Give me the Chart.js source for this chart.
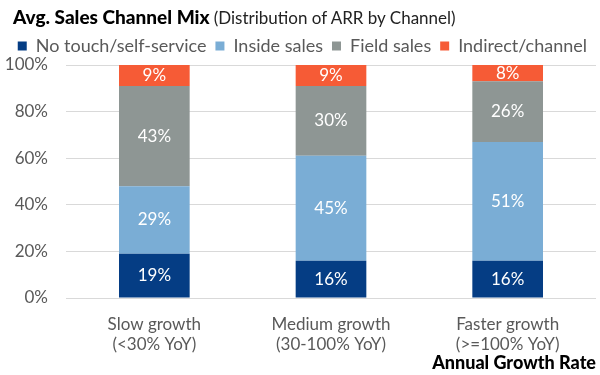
<!DOCTYPE html>
<html>
<head>
<meta charset="utf-8">
<script src="https://cdn.jsdelivr.net/npm/chart.js@4"></script>
<style>
    html, body { margin: 0; padding: 0; background: #ffffff; }
    #wrap { position: relative; width: 600px; height: 375px; }
    #header {
        position: absolute; left: 13px; top: 5px;
        font-family: Lato, sans-serif; color: #000000; white-space: nowrap;
    }
    #header b { font-size: 19px; font-weight: 900; }
    #header span { font-size: 17px; color: #222222; }
    canvas { position: absolute; left: 0; top: 0; }
</style>
</head>
<body>
<div id="wrap">
    <canvas id="mixChart" width="600" height="375"></canvas>
    <div id="header"><b>Avg. Sales Channel Mix</b> <span>(Distribution of ARR by Channel)</span></div>
</div>
<script>
const categories = [
    ['Slow growth', '(<30% YoY)'],
    ['Medium growth', '(30-100% YoY)'],
    ['Faster growth', '(>=100% YoY)']
];
const noTouch = [19, 16, 16];
const insideSales = [29, 45, 51];
const fieldSales = [43, 30, 26];
const indirect = [9, 9, 8];
const yTicks = [0, 20, 40, 60, 80, 100];

const seriesColors = {
    noTouch: '#053d84',
    inside: '#7aadd5',
    field: '#8e9694',
    indirect: '#f65b36'
};

// draws the value label in the middle of each stacked segment
const segmentLabels = {
    id: 'segmentLabels',
    afterDatasetsDraw(chart) {
        const ctx = chart.ctx;
        ctx.save();
        ctx.fillStyle = '#ffffff';
        ctx.font = '17px Lato';
        ctx.textAlign = 'center';
        ctx.textBaseline = 'middle';
        chart.data.datasets.forEach((ds, i) => {
            chart.getDatasetMeta(i).data.forEach((bar, j) => {
                const top = Math.max(bar.y, chart.chartArea.top);
                const mid = (top + bar.base) / 2;
                ctx.fillText(ds.data[j] + '%', bar.x, mid);
            });
        });
        ctx.restore();
    }
};

new Chart(document.getElementById('mixChart'), {
    type: 'bar',
    data: {
        labels: categories,
        datasets: [
            { label: 'No touch/self-service', data: noTouch, backgroundColor: seriesColors.noTouch },
            { label: 'Inside sales', data: insideSales, backgroundColor: seriesColors.inside },
            { label: 'Field sales', data: fieldSales, backgroundColor: seriesColors.field },
            { label: 'Indirect/channel', data: indirect, backgroundColor: seriesColors.indirect }
        ]
    },
    options: {
        responsive: false,
        animation: false,
        layout: { padding: { top: 28, right: 4, left: 0, bottom: 0 } },
        datasets: { bar: { categoryPercentage: 1, barPercentage: 0.4 } },
        plugins: {
            legend: {
                position: 'top',
                align: 'end',
                labels: {
                    boxWidth: 9,
                    boxHeight: 9,
                    color: '#595959',
                    font: { family: 'Lato', size: 18 },
                    padding: 9
                }
            },
            tooltip: { enabled: false }
        },
        scales: {
            x: {
                stacked: true,
                grid: { display: false },
                border: { display: false },
                afterFit(axis) {
                    axis.height = 77;
                },
                ticks: {
                    color: '#595959',
                    font: { family: 'Lato', size: 17, lineHeight: 1.2 },
                    padding: 8,
                    maxRotation: 0
                },
                title: {
                    display: true,
                    text: 'Annual Growth Rate',
                    align: 'end',
                    color: '#000000',
                    font: { family: 'Lato', size: 18, weight: '900', lineHeight: 1.2 },
                    padding: { top: 0, bottom: 1 }
                }
            },
            y: {
                stacked: true,
                min: 0,
                max: 100,
                afterBuildTicks(axis) {
                    axis.ticks = yTicks.map(v => ({ value: v }));
                },
                afterFit(axis) {
                    axis.width = 66;
                },
                grid: { color: '#d9d9d9', lineWidth: 1, drawTicks: false },
                border: { display: false },
                ticks: {
                    color: '#595959',
                    font: { family: 'Lato', size: 17 },
                    padding: 18,
                    callback: v => v + '%'
                }
            }
        }
    },
    plugins: [segmentLabels]
});
</script>
</body>
</html>
